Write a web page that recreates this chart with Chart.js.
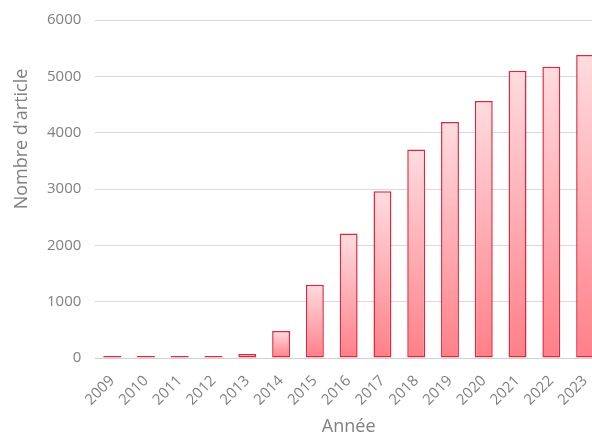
<!DOCTYPE html>
<html>
<head>
<meta charset="utf-8">
<script src="https://cdn.jsdelivr.net/npm/chart.js@4/dist/chart.umd.min.js"></script>
<style>
  html, body { margin: 0; padding: 0; background: #fff; overflow: hidden; }
  .wrap { position: relative; width: 612px; height: 436px; }
</style>
</head>
<body>
<div class="wrap"><canvas id="chart"></canvas></div>
<script>
const years = ['2009', '2010', '2011', '2012', '2013', '2014', '2015', '2016',
  '2017', '2018', '2019', '2020', '2021', '2022', '2023'];
const articles = [35, 35, 35, 35, 70, 480, 1300, 2210, 2960, 3700, 4190, 4560, 5100, 5170, 5380];
const yTicks = [0, 1000, 2000, 3000, 4000, 5000, 6000];

const yTitle = "Nombre d'article";
const xTitle = 'Année';
const grey = '#808080';
const edge = '#e0263d';
const font = "'Open Sans', sans-serif";

// gradient per bar, light at the top, darker at the base
function barFill(ctx) {
  const chart = ctx.chart;
  const y = chart.scales.y;
  if (!chart.chartArea || !y || ctx.parsed === undefined) return '#ffb0b5';
  const top = y.getPixelForValue(ctx.parsed.y);
  const bottom = y.getPixelForValue(0);
  if (!isFinite(top) || bottom - top < 3) return edge; // tiny bars read as a red line
  const g = chart.ctx.createLinearGradient(0, top, 0, bottom);
  g.addColorStop(0, '#ffdcdf');
  g.addColorStop(1, '#ff7f88');
  return g;
}

// y title sits higher than the plot centre in the original
const yTitlePlugin = {
  id: 'yTitle',
  afterDraw(chart) {
    const c = chart.ctx;
    c.save();
    c.translate(22, 139);
    c.rotate(-Math.PI / 2);
    c.font = `18px ${font}`;
    c.fillStyle = grey;
    c.textAlign = 'center';
    c.textBaseline = 'middle';
    c.fillText(yTitle, 0, 0);
    c.restore();
  }
};

new Chart(document.getElementById('chart').getContext('2d'), {
  type: 'bar',
  data: {
    labels: years,
    datasets: [{
      data: articles,
      backgroundColor: barFill,
      borderColor: edge,
      borderWidth: 1.5,
      borderSkipped: false,
      categoryPercentage: 1,
      barPercentage: 0.53
    }]
  },
  plugins: [yTitlePlugin],
  options: {
    responsive: true,
    maintainAspectRatio: false,
    animation: false,
    layout: { padding: { left: 33, top: 20, right: 10, bottom: 0 } },
    plugins: {
      legend: { display: false },
      tooltip: { enabled: false }
    },
    scales: {
      y: {
        min: 0, max: 6000,
        afterBuildTicks: axis => { axis.ticks = yTicks.map(v => ({ value: v })); },
        afterFit: axis => { axis.paddingTop = 0; },
        border: { display: false },
        grid: { color: '#d9d9d9', lineWidth: 1, drawTicks: false },
        ticks: { color: grey, font: { family: font, size: 15 }, padding: 14, callback: v => String(v) }
      },
      x: {
        border: { color: '#d0d0d0' },
        grid: { display: false },
        ticks: { color: grey, font: { family: font, size: 15 }, maxRotation: 45, minRotation: 45, padding: 6 },
        title: { display: true, text: xTitle, color: grey, font: { family: font, size: 18, lineHeight: 1 }, padding: { top: 3, bottom: 0 } }
      }
    }
  }
});
</script>
</body>
</html>
